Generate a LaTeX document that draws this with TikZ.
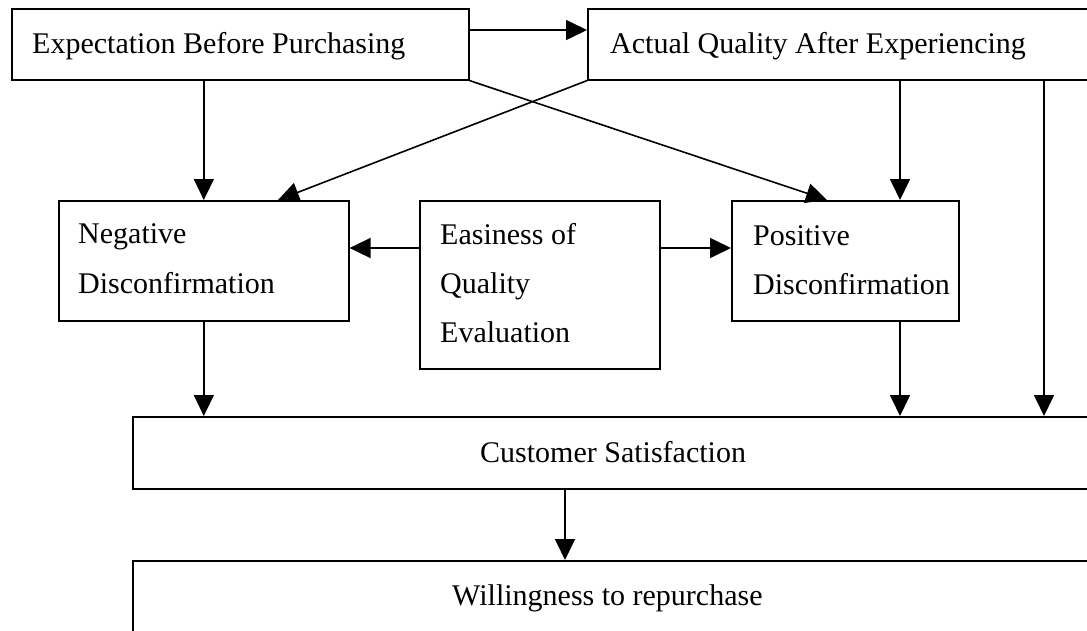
\documentclass[tikz,border=0pt]{standalone}
\usepackage{fontspec}
\setmainfont{Liberation Serif}
\usetikzlibrary{arrows.meta,calc}
\begin{document}
\begin{tikzpicture}[x=1pt,y=-1pt,
  box/.style={draw, line width=1.6pt, rectangle, inner sep=0pt, anchor=north west},
  txt/.style={font=\fontsize{30}{36}\selectfont, inner sep=0pt, anchor=base west},
  arr/.style={line width=1.6pt, -{Triangle[length=21pt,width=20pt]}}]
\useasboundingbox (0,0) rectangle (1087,630);
\clip (0,0) rectangle (1087,630);

% boxes
\node[box, minimum width=457pt, minimum height=71pt]  (exp)  at (11,8) {};
\node[box, minimum width=600pt, minimum height=71pt]  (act)  at (587,8) {};
\node[box, minimum width=290pt, minimum height=120pt] (neg)  at (58,200) {};
\node[box, minimum width=240pt, minimum height=168pt] (ease) at (419,200) {};
\node[box, minimum width=227pt, minimum height=120pt] (pos)  at (731,200) {};
\node[box, minimum width=1000pt, minimum height=72pt] (cs)   at (132,416) {};
\node[box, minimum width=1000pt, minimum height=200pt] (wr)  at (132,560) {};

% labels
\node[txt] (expT)  at (32,53)   {Expectation Before Purchasing};
\node[txt] (actT)  at (610,53)  {Actual Quality After Experiencing};
\node[txt] (negT1) at (78,243)  {Negative};
\node[txt] (negT2) at (78,293)  {Disconfirmation};
\node[txt] (easT1) at (440,244) {Easiness of};
\node[txt] (easT2) at (440,293) {Quality};
\node[txt] (easT3) at (440,342) {Evaluation};
\node[txt] (posT1) at (753,245) {Positive};
\node[txt] (posT2) at (753,294) {Disconfirmation};
\node[txt] (csT)   at (480,462) {Customer Satisfaction};
\node[txt] (wrT)   at (452,605) {Willingness to repurchase};

% helper positions for connectors
\coordinate (ab) at (0,30);
\coordinate (ey) at (0,248);
\coordinate (px) at (900,0);
\coordinate (qx) at (1044,0);
\coordinate (cx) at (565,0);

% connectors
\draw[arr] (exp.east |- ab) -- (act.west |- ab);
\draw[arr] (exp.south -| neg.north) -- (neg.north);
\draw[arr] (exp.south east) -- ($(pos.north west)+(96,0)$);
\draw[arr] (act.south west) -- ($(neg.north west)+(220,0)$);
\draw[arr] (act.south -| px) -- (pos.north -| px);
\draw[arr] (act.south -| qx) -- (cs.north -| qx);
\draw[arr] (ease.west |- ey) -- (neg.east |- ey);
\draw[arr] (ease.east |- ey) -- (pos.west |- ey);
\draw[arr] (neg.south) -- (cs.north -| neg.south);
\draw[arr] (pos.south -| px) -- (cs.north -| px);
\draw[arr] (cs.south -| cx) -- (wr.north -| cx);
\end{tikzpicture}
\end{document}
